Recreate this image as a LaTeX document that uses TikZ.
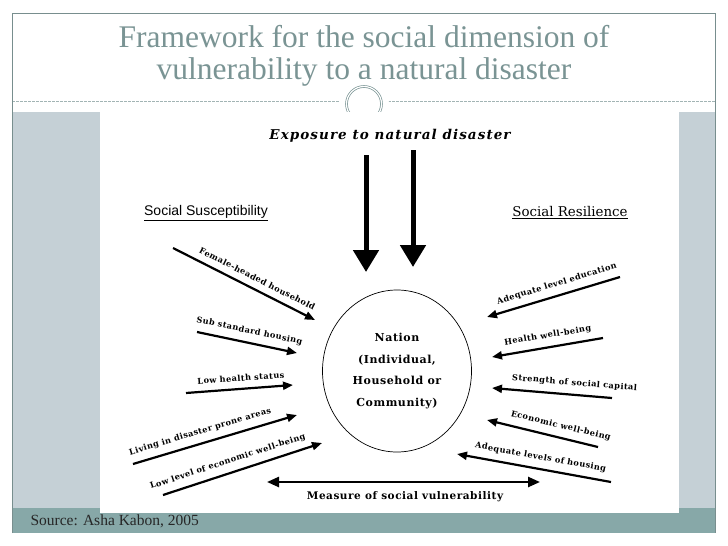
\documentclass[tikz,border=0pt]{standalone}
\usepackage{fontspec}
\setmainfont{Liberation Serif}
\newfontfamily\diagfont[LetterSpace=5]{DejaVu Serif}
\newfontfamily\expofont[LetterSpace=8]{DejaVu Serif}
\newfontfamily\plainserif{DejaVu Serif}
\newfontfamily\arialfont{Liberation Sans}
\usetikzlibrary{arrows.meta,shapes.geometric}

\definecolor{titlegrey}{RGB}{122,148,148}
\definecolor{sideband}{RGB}{197,208,214}
\definecolor{footband}{RGB}{135,168,168}
\definecolor{framegrey}{RGB}{120,142,142}

\begin{document}
\begin{tikzpicture}[
  x=1pt, y=-1pt,
  thinarrow/.style={-{Triangle[length=10pt,width=8pt]}, line width=2.2pt},
  thickarrow/.style={-{Triangle[length=22pt,width=25pt]}, line width=5pt},
  botharrow/.style={{Triangle[length=12pt,width=10pt]}-{Triangle[length=12pt,width=10pt]}, line width=2.4pt},
  factor/.style={font=\diagfont\bfseries\fontsize{8.2}{9}\selectfont, sloped, anchor=south, yshift=5.5pt, inner sep=1pt},
  heading/.style={font=\diagfont\bfseries\fontsize{10.5}{12}\selectfont, inner sep=1pt},
  sidetitle/.style={inner sep=1pt}
]
\useasboundingbox (0,0) rectangle (728,546);
\fill[white] (0,0) rectangle (728,546);

% slide frame and title
\node[font=\fontsize{31.5}{32}\selectfont, text=titlegrey, align=center] (title) at (364,56)
  {Framework for the social dimension of\\vulnerability to a natural disaster};
\draw[titlegrey!70, dash pattern=on 2.5pt off 1.5pt, line width=0.6pt] (12,101) -- (715,101);
\fill[white] (364,104) circle (25);
\draw[titlegrey, double, double distance=1.2pt, line width=0.7pt] (364,104) circle (17.5);

\fill[sideband] (12,112) rectangle (715,508);
\fill[footband] (12,508) rectangle (715,533);
\fill[white] (100,112) rectangle (679,513);
\draw[framegrey, line width=0.8pt] (12,533) -- (12,13) -- (715,13) -- (715,533);
\node[anchor=west, font=\fontsize{15.5}{18}\selectfont, text=black!85] (source) at (27,521)
  {Source: Asha Kabon, 2005};

% exposure
\node[font=\expofont\bfseries\itshape\fontsize{13.5}{15}\selectfont, inner sep=1pt] (expo) at (390,136)
  {Exposure to natural disaster};
\coordinate (hitA) at (366,155);
\coordinate (hitAend) at (366,272);
\coordinate (hitB) at (413,150);
\coordinate (hitBend) at (413,267);
\draw[thickarrow] (hitA) -- (hitAend);
\draw[thickarrow] (hitB) -- (hitBend);

\node[sidetitle, font=\arialfont\fontsize{14}{16}\selectfont] (suscept) at (206,213)
  {\underline{Social Susceptibility}};
\node[sidetitle, font=\plainserif\fontsize{13.4}{15}\selectfont] (resil) at (570,213)
  {\underline{Social Resilience}};

% the nation
\node[ellipse, draw, line width=0.7pt, minimum width=149, minimum height=162, inner sep=0pt,
  align=center, font=\diagfont\bfseries\fontsize{11}{21.7}\selectfont] (nation) at (397,371)
  {Nation\\(Individual,\\Household or\\Community)};

% susceptibility factors
\coordinate (fhT) at (173,248); \coordinate (fhH) at (315,320);
\coordinate (ssT) at (197,332); \coordinate (ssH) at (297,353);
\coordinate (lhT) at (186,393); \coordinate (lhH) at (293,385);
\coordinate (ldT) at (133,464); \coordinate (ldH) at (297,415);
\coordinate (leT) at (163,495); \coordinate (leH) at (322,443);
\draw[thinarrow] (fhT) -- (fhH) node[factor, pos=0.56] (fhLbl) {Female-headed household};
\draw[thinarrow] (ssT) -- (ssH) node[factor, pos=0.5] (ssLbl) {Sub standard housing};
\draw[thinarrow] (lhT) -- (lhH) node[factor, pos=0.52] (lhLbl) {Low health status};
\draw[thinarrow] (ldT) -- (ldH) node[factor, pos=0.43] (ldLbl) {Living in disaster prone areas};
\draw[thinarrow] (leT) -- (leH) node[factor, pos=0.43] (leLbl) {Low level of economic well-being};

% resilience factors
\coordinate (aeT) at (620,277); \coordinate (aeH) at (487,317);
\coordinate (hwT) at (603,338); \coordinate (hwH) at (492,357);
\coordinate (scT) at (612,398); \coordinate (scH) at (492,388);
\coordinate (ewT) at (598,447); \coordinate (ewH) at (487,420);
\coordinate (ahT) at (611,482); \coordinate (ahH) at (457,454);
\draw[thinarrow] (aeT) -- (aeH) node[factor, pos=0.45] (aeLbl) {Adequate level education};
\draw[thinarrow] (hwT) -- (hwH) node[factor, pos=0.48] (hwLbl) {Health well-being};
\draw[thinarrow] (scT) -- (scH) node[factor, pos=0.32] (scLbl) {Strength of social capital};
\draw[thinarrow] (ewT) -- (ewH) node[factor, pos=0.36] (ewLbl) {Economic well-being};
\draw[thinarrow] (ahT) -- (ahH) node[factor, pos=0.47] (ahLbl) {Adequate levels of housing};

% measure
\coordinate (msL) at (267,482);
\coordinate (msR) at (540,482);
\draw[botharrow] (msL) -- (msR);
\node[heading] (measure) at (405,497) {Measure of social vulnerability};

\end{tikzpicture}
\end{document}
